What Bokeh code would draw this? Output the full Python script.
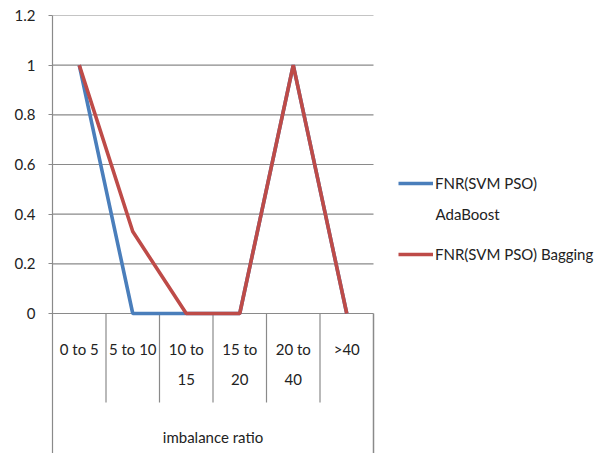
from bokeh.plotting import figure
from bokeh.models import Range1d, FixedTicker, LinearAxis, Legend, LegendItem
from bokeh.core.properties import value
from bokeh.embed import file_html
from bokeh.resources import INLINE

# Imbalance-ratio bins (wrapped as they appear under the axis)
categories = ["0 to 5", "5 to 10", "10 to\n15", "15 to\n20", "20 to\n40", ">40"]
fnr_adaboost = [1, 0, 0, 0, 1, 0]
fnr_bagging = [1, 0.33, 0, 0, 1, 0]
y_ticks = [0, 0.2, 0.4, 0.6, 0.8, 1, 1.2]
y_tick_labels = ["0", "0.2", "0.4", "0.6", "0.8", "1", "1.2"]
axis_title = "imbalance ratio"
series_names = ["FNR(SVM PSO)\nAdaBoost", "FNR(SVM PSO) Bagging"]

FONT = "Lato"
FS = "15px"
TEXT = "#222222"
GRID = "#8a8a8a"
BLUE = "#4a7ebb"
RED = "#be4b48"

n = len(categories)
plot_w = 321              # pixels spanned by the six categories
side_w = 230              # legend area to the right
plot_h = 298              # pixels from 0 to 1.2
below_px = 140            # category area under the zero line
ppu = plot_h / y_ticks[-1]
ppx = plot_w / n
y_bottom = -below_px / ppu
x_end = n * (plot_w + side_w) / plot_w

def down(px):
    """Data y for a point `px` pixels below the zero line."""
    return -px / ppu

centers = [i + 0.5 for i in range(n)]

p = figure(width=603, height=453, frame_width=plot_w + side_w, frame_height=plot_h + below_px,
           x_range=Range1d(0, x_end), y_range=Range1d(y_bottom, y_ticks[-1]),
           x_axis_location=None, y_axis_location=None,
           min_border_left=52, min_border_right=0, min_border_top=15, min_border_bottom=0,
           output_backend="svg", toolbar_location=None)
p.outline_line_color = None
p.background_fill_color = "white"
p.border_fill_color = "white"

yaxis = LinearAxis(ticker=FixedTicker(ticks=y_ticks),
                   major_label_overrides={t: s for t, s in zip(y_ticks, y_tick_labels)})
yaxis.axis_line_color = GRID
yaxis.axis_line_width = 1.2
yaxis.major_tick_line_color = GRID
yaxis.major_tick_line_width = 1.2
yaxis.major_tick_out = 4
yaxis.major_tick_in = 0
yaxis.minor_tick_line_color = None
yaxis.major_label_standoff = 13
yaxis.major_label_text_font = FONT
yaxis.major_label_text_font_size = FS
yaxis.major_label_text_color = TEXT
p.add_layout(yaxis, "left")

p.xgrid.visible = False
p.ygrid.visible = False
# horizontal gridlines across the category span only
p.segment(x0=[0] * len(y_ticks), x1=[n] * len(y_ticks), y0=y_ticks, y1=y_ticks,
          line_color=GRID, line_width=1.2)

# category separators and right border of the axis table
sep_x = list(range(1, n))
p.segment(x0=sep_x, x1=sep_x, y0=[0] * len(sep_x), y1=[down(89)] * len(sep_x),
          line_color=GRID, line_width=1.2)
p.segment(x0=[n], x1=[n], y0=[0], y1=[y_bottom], line_color=GRID, line_width=1.5)

p.text(x=centers, y=[down(26)] * n, text=categories, text_align="center",
       text_baseline="top", text_font=value(FONT), text_font_size=FS,
       text_color=TEXT, text_line_height=1.68)
p.text(x=[n / 2], y=[down(123)], text=[axis_title], text_align="center",
       text_baseline="middle", text_font=value(FONT), text_font_size=FS, text_color=TEXT)

r_blue = p.line(centers, fnr_adaboost, line_color=BLUE, line_width=3.6)
r_red = p.line(centers, fnr_bagging, line_color=RED, line_width=3.6)

# legend: glyph at 346 px from the frame's left edge, label right after it
leg_x, glyph_w, standoff = 346, 35, 2
blue_first, blue_second = series_names[0].split("\n")
for r, name, vy in [(r_blue, blue_first, 261), (r_red, series_names[1], 190)]:
    lg = Legend(items=[LegendItem(label=name, renderers=[r])], location=(leg_x, vy),
                border_line_color=None, background_fill_alpha=0, padding=0, margin=0,
                spacing=0, glyph_width=glyph_w, glyph_height=18, label_standoff=standoff,
                label_text_font=FONT, label_text_font_size=FS, label_text_color=TEXT)
    p.add_layout(lg, "center")

# second line of the wrapped AdaBoost entry
p.text(x=[(leg_x + glyph_w + standoff) / ppx], y=[100 / ppu], text=[blue_second],
       text_align="left", text_baseline="middle", text_font=value(FONT),
       text_font_size=FS, text_color=TEXT)

open("out.html", "w").write(file_html(p, INLINE))
